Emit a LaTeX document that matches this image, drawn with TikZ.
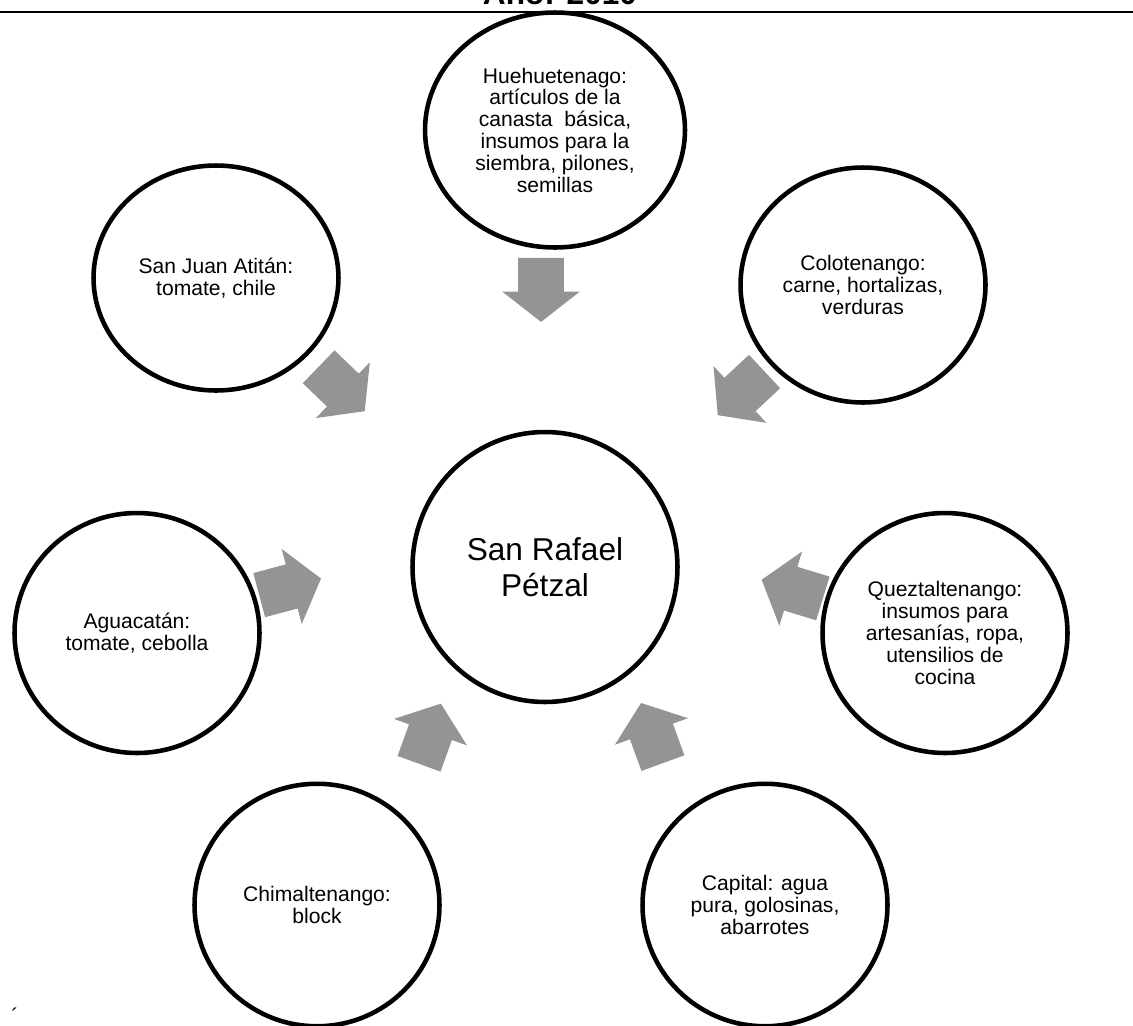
\documentclass[tikz,border=0pt]{standalone}
\usepackage{fontspec}
\setmainfont{Liberation Sans}
\usetikzlibrary{shapes.geometric,shapes.arrows}
\definecolor{flowgray}{gray}{0.58}
\tikzset{
  town/.style={ellipse, draw, line width=2.6pt, minimum width=4.9cm, minimum height=4.75cm,
    align=center, inner sep=0pt, font=\fontsize{12}{12.4}\selectfont},
  hub/.style={town, minimum width=5.3cm, minimum height=5.4cm, font=\fontsize{18}{20.5}\selectfont},
  flow/.style={single arrow, fill=flowgray, inner xsep=0pt, inner ysep=0.45cm,
    minimum height=1.28cm, single arrow head extend=0.32cm, single arrow tip angle=104}
}
\begin{document}
\begin{tikzpicture}[x=0.02cm, y=-0.02cm]
\useasboundingbox (0,0) rectangle (1133,1025);

% title, cut at the top edge
\node[anchor=base, font=\bfseries\fontsize{18}{20}\selectfont] (year) at (560,4.5) {Año: 2010};
\draw[line width=1.2pt] (0,12)--(1133,12);

\node[hub] (ctr) at (545,567) {San Rafael\\Pétzal};

\node[town, minimum width=5.2cm, minimum height=4.7cm] (hue) at (555,130)
  {Huehuetenago:\\artículos de la\\canasta\ \ básica,\\insumos para la\\siembra, pilones,\\semillas};
\node[town, minimum height=4.5cm] (sja) at (216,278) {San Juan Atitán:\\tomate, chile};
\node[town, minimum height=4.7cm] (col) at (863,285) {Colotenango:\\carne, hortalizas,\\verduras};
\node[town, minimum height=4.8cm] (agu) at (137,633) {Aguacatán:\\tomate, cebolla};
\node[town, minimum height=4.8cm] (que) at (945,633)
  {Queztaltenango:\\insumos para\\artesanías, ropa,\\utensilios de\\cocina};
\node[town, minimum height=4.85cm] (chi) at (317,905) {Chimaltenango:\\block};
\node[town, minimum height=4.85cm] (cap) at (765,905) {Capital: agua\\pura, golosinas,\\abarrotes};

% flows into San Rafael
\path (hue.center) -- node[flow, pos=.3455, xshift=-.21cm, rotate=-90] (f1) {} (ctr.center);
\path (sja.center) -- node[flow, pos=.3625, rotate=-44] (f2) {} (ctr.center);
\path (col.center) -- node[flow, pos=.3626, rotate=-137] (f3) {} (ctr.center);
\path (agu.center) -- node[flow, pos=.3615, xshift=-.06cm, yshift=.4cm, rotate=15] (f4) {} (ctr.center);
\path (que.center) -- node[flow, pos=.368, xshift=.06cm, yshift=.34cm, rotate=163] (f5) {} (ctr.center);
\path (chi.center) -- node[flow, pos=.482, rotate=70] (f6) {} (ctr.center);
\path (cap.center) -- node[flow, pos=.484, xshift=-.07cm, rotate=110] (f7) {} (ctr.center);

\node[font=\fontsize{12}{12}\selectfont] (mark) at (15,1016) {´};
\end{tikzpicture}
\end{document}
